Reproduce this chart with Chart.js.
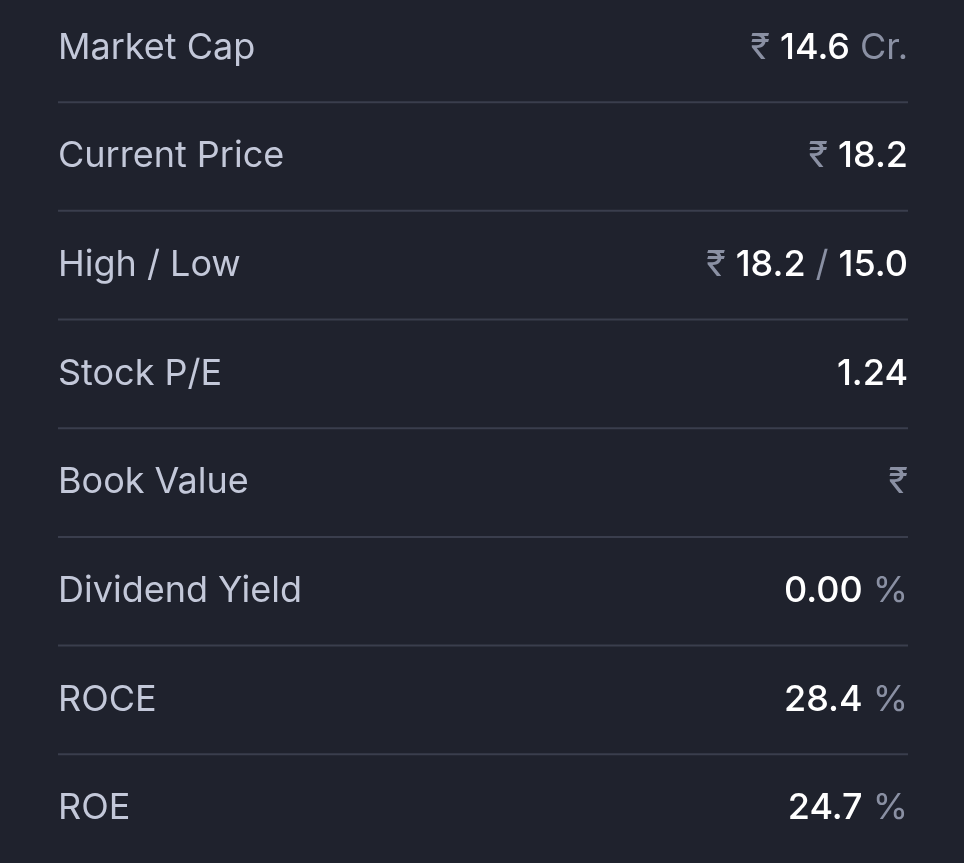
<!DOCTYPE html>
<html><head><meta charset="utf-8">
<script src="https://cdn.jsdelivr.net/npm/chart.js@4/dist/chart.umd.min.js"></script>
<style>html,body{margin:0;padding:0;background:#1f222d;overflow:hidden}#w{width:964px;height:863px}</style>
</head><body><div id="w"><canvas id="c"></canvas></div>
<script>
const labels = ["Market Cap","Current Price","High / Low","Stock P/E","Book Value","Dividend Yield","ROCE","ROE"];
const prefixes = ["₹","₹","₹","","₹","","",""];
const values = ["14.6","18.2","18.2 / 15.0","1.24","","0.00","28.4","24.7"];
const suffixes = ["Cr.","","","","","%","%","%"];
const rowIndex = labels.map((_, i) => i);

const rowsPlugin = {
  id: 'rows',
  afterDatasetsDraw(chart) {
    const ctx = chart.ctx, y = chart.scales.y;
    const L = 58, R = 908;
    ctx.save();
    ctx.font = '400 36px Inter';
    ctx.textBaseline = 'middle';
    rowIndex.forEach(i => {
      const cy = y.getPixelForValue(i);
      ctx.fillStyle = '#c3c8d9';
      ctx.textAlign = 'left';
      ctx.font = '400 36px Inter';
      ctx.fillText(labels[i], L, cy);
      // right side pieces, drawn right-to-left
      let x = R;
      ctx.textAlign = 'right';
      const parts = [];
      if (prefixes[i]) parts.push([prefixes[i], '#8a90a3', '400']);
      if (values[i]) {
        const v = values[i].split(' / ');
        parts.push([v[0], '#ffffff', '500']);
        if (v.length > 1) { parts.push(['/', '#8a90a3', '400']); parts.push([v[1], '#ffffff', '500']); }
      }
      if (suffixes[i]) parts.push([suffixes[i], '#8a90a3', '400']);
      for (let k = parts.length - 1; k >= 0; k--) {
        const [t, col, w] = parts[k];
        ctx.font = w + ' 36px Inter';
        ctx.fillStyle = col;
        ctx.fillText(t, x, cy);
        x -= ctx.measureText(t).width + 10;
      }
      if (i < rowIndex.length - 1) {
        const ly = y.getPixelForValue(i + 0.5);
        ctx.strokeStyle = '#3a3e4d';
        ctx.lineWidth = 2;
        ctx.beginPath(); ctx.moveTo(L, ly); ctx.lineTo(R, ly); ctx.stroke();
      }
    });
    ctx.restore();
  }
};

new Chart(document.getElementById('c'), {
  type: 'scatter',
  data: { datasets: [{ data: rowIndex.map(i => ({x: 0, y: i})), pointRadius: 0 }] },
  options: {
    responsive: true, maintainAspectRatio: false, animation: false,
    layout: { padding: 0 },
    plugins: { legend: { display: false }, tooltip: { enabled: false } },
    scales: {
      x: { display: false, min: 0, max: 1 },
      y: { display: false, reverse: true, min: -0.44, max: 7.5 }
    }
  },
  plugins: [rowsPlugin]
});
</script></body></html>
